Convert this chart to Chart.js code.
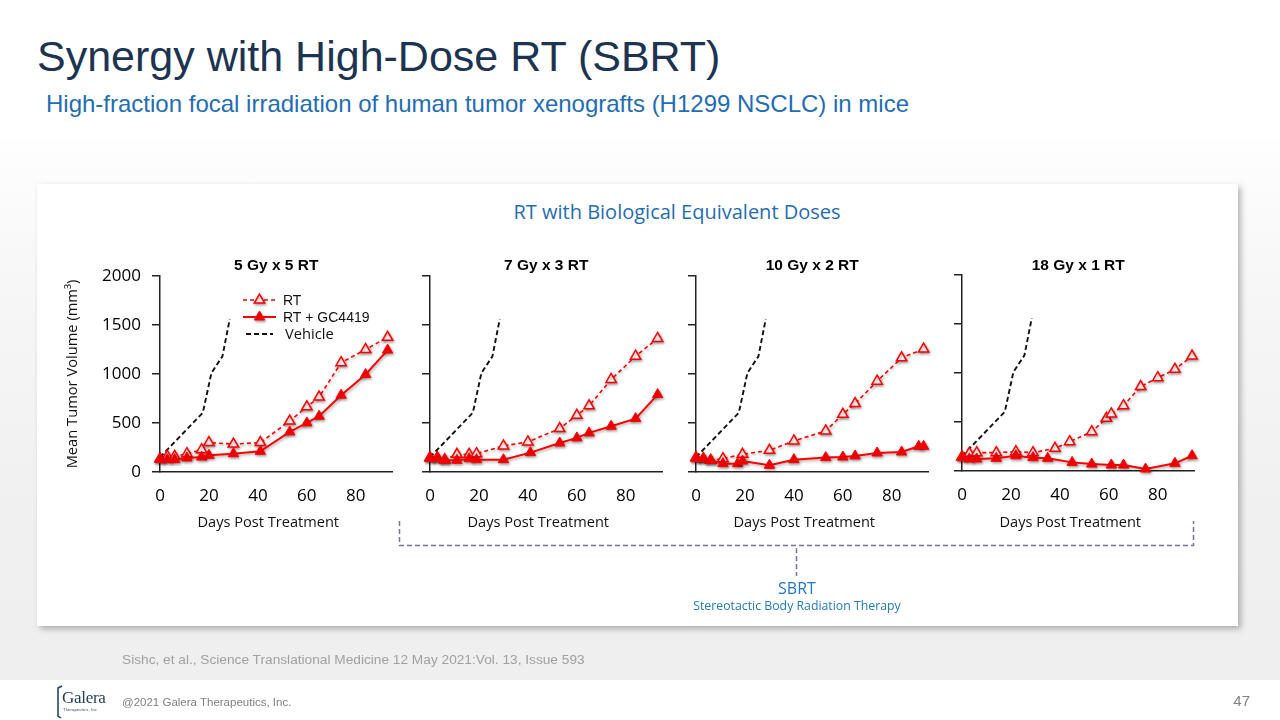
<!DOCTYPE html>
<html>
<head>
<meta charset="utf-8">
<script src="https://cdn.jsdelivr.net/npm/chart.js@4.4.1/dist/chart.umd.min.js"></script>
<style>
html,body{margin:0;padding:0;}
body{width:1280px;height:720px;position:relative;overflow:hidden;background:#fff;font-family:"Liberation Sans",Arial,sans-serif;}
.abs{position:absolute;white-space:nowrap;}
#band{left:0;top:140px;width:1280px;height:540px;background:linear-gradient(#fefefe,#f6f6f6 30%,#f0f0f0 70%,#efefef);}
#card{left:37px;top:184px;width:1201px;height:442px;background:#fff;box-shadow:3px 3px 6px rgba(0,0,0,0.28);}
#title{left:37px;top:32px;font-size:43px;line-height:48px;color:#1c3452;}
#subtitle{left:46px;top:90px;font-size:24px;line-height:28px;color:#1f6db3;}
#cardTitle{left:477px;width:400px;top:198px;text-align:center;font-family:"Open Sans";font-size:20px;line-height:28px;color:#1f6db3;}
#sbrt{left:697px;width:200px;top:576px;text-align:center;font-family:"Open Sans";font-size:16px;line-height:24px;color:#1f78bd;}
#sbrtSub{left:647px;width:300px;top:597px;text-align:center;font-family:"Open Sans";font-size:12.3px;line-height:18px;color:#1f78bd;}
#cite{left:122px;top:651px;font-size:13.7px;line-height:18px;color:#a0a0a0;}
#copy{left:122px;top:694px;font-size:11.5px;line-height:16px;color:#808080;}
#page{left:1200px;width:50px;top:691px;text-align:right;font-size:15px;line-height:20px;color:#808080;}
#logo{left:62px;top:688px;font-family:"Liberation Serif",serif;font-size:17px;line-height:20px;color:#1e3a5f;letter-spacing:-0.3px;}
#logoSub{left:63px;top:707px;font-size:4px;line-height:5px;color:#1e3a5f;letter-spacing:0.2px;}
canvas{position:absolute;}
svg{position:absolute;left:0;top:0;}
</style>
</head>
<body>
<div id="band" class="abs"></div>
<div id="card" class="abs"></div>
<div id="title" class="abs">Synergy with High-Dose RT (SBRT)</div>
<div id="subtitle" class="abs">High-fraction focal irradiation of human tumor xenografts (H1299 NSCLC) in mice</div>
<div id="cardTitle" class="abs">RT with Biological Equivalent Doses</div>

<canvas id="c1" width="360" height="300" style="left:40px;top:250px"></canvas>
<canvas id="c2" width="250" height="300" style="left:420px;top:250px"></canvas>
<canvas id="c3" width="250" height="300" style="left:686px;top:250px"></canvas>
<canvas id="c4" width="250" height="300" style="left:952px;top:249px"></canvas>

<svg width="1280" height="720">
  <g stroke="#7676a6" stroke-width="1.5" fill="none" stroke-dasharray="5 3">
    <path d="M399.5 521 L399.5 545.5 L1193.5 545.5 L1193.5 521"/>
    <path d="M796.5 548 L796.5 576"/>
  </g>
  <path d="M62 686 L58 688 L58 716 L61 718" stroke="#1e3a5f" stroke-width="1.5" fill="none"/>
</svg>
<div id="sbrt" class="abs">SBRT</div>
<div id="sbrtSub" class="abs">Stereotactic Body Radiation Therapy</div>
<div id="cite" class="abs">Sishc, et al., Science Translational Medicine 12 May 2021:Vol. 13, Issue 593</div>
<div id="logo" class="abs">Galera</div>
<div id="logoSub" class="abs">Therapeutics, Inc</div>
<div id="copy" class="abs">@2021 Galera Therapeutics, Inc.</div>
<div id="page" class="abs">47</div>

<script>
// ---------------- DATA ----------------
const panelTitles = ['5 Gy x 5 RT', '7 Gy x 3 RT', '10 Gy x 2 RT', '18 Gy x 1 RT'];
const seriesLabels = ['RT', 'RT + GC4419', 'Vehicle'];
const xAxisLabel = 'Days Post Treatment';
const yAxisLabel = 'Mean Tumor Volume (mm³)';
const xTicks = [0, 20, 40, 60, 80];
const yTicks = [0, 500, 1000, 1500, 2000];

// Vehicle (same control group in all panels)
const vehicleDays = [0, 17.5, 21, 25.5, 28.5];
const vehicleVol  = [150, 605, 1010, 1180, 1560];

// Panel 1: 5 Gy x 5
const p1RTDays = [0, 3, 6, 11, 17, 20, 30, 41, 53, 60, 65, 74, 84, 93];
const p1RTVol  = [136, 160, 160, 187, 228, 300, 285, 300, 520, 665, 765, 1115, 1250, 1375];
const p1GCDays = [0, 3, 6, 11, 17, 20, 30, 41, 53, 60, 65, 74, 84, 93];
const p1GCVol  = [126, 126, 126, 143, 153, 170, 187, 211, 409, 501, 569, 784, 995, 1244];

// Panel 2: 7 Gy x 3
const p2RTDays = [0, 3, 6, 11, 16, 19, 30, 40, 53, 60, 65, 74, 84, 93];
const p2RTVol  = [147, 147, 126, 181, 181, 187, 266, 307, 443, 579, 675, 944, 1182, 1363];
const p2GCDays = [0, 3, 6, 11, 16, 19, 30, 41, 53, 60, 65, 74, 84, 93];
const p2GCVol  = [136, 136, 119, 119, 136, 126, 126, 198, 296, 348, 399, 467, 545, 790];

// Panel 3: 10 Gy x 2
const p3RTDays = [0, 3, 6, 11, 19, 30, 40, 53, 60, 65, 74, 84, 93];
const p3RTVol  = [147, 136, 119, 136, 181, 221, 317, 419, 589, 698, 927, 1165, 1254];
const p3GCDays = [0, 3, 6, 11, 17, 19, 30, 40, 53, 60, 65, 74, 84, 91, 93];
const p3GCVol  = [136, 136, 119, 85, 85, 112, 68, 126, 147, 153, 164, 194, 204, 262, 262];

// Panel 4: 18 Gy x 1
const p4RTDays = [0, 3, 6, 14, 22, 29, 38, 44, 53, 59, 61, 66, 73, 80, 87, 94];
const p4RTVol  = [146, 180, 187, 187, 197, 187, 231, 299, 401, 537, 582, 667, 861, 952, 1037, 1173];
const p4GCDays = [0, 3, 6, 14, 22, 29, 35, 45, 53, 61, 66, 75, 87, 94];
const p4GCVol  = [136, 122, 122, 129, 156, 136, 129, 88, 71, 61, 61, 20, 78, 156];

// ---------------- HELPERS ----------------
const RED = '#ff0000';
function toXY(xs, ys) { return xs.map((x, i) => ({x: x, y: ys[i]})); }

const shadowPlugin = {
  id: 'redShadow',
  beforeDatasetDraw(chart, args) {
    const ds = chart.data.datasets[args.index];
    const ctx = chart.ctx;
    ctx.save();
    if (ds.borderColor === RED) {
      ctx.shadowColor = 'rgba(0,0,0,0.35)';
      ctx.shadowBlur = 3;
      ctx.shadowOffsetX = 1;
      ctx.shadowOffsetY = 1.5;
    }
  },
  afterDatasetDraw(chart) { chart.ctx.restore(); }
};

const panelTextPlugin = {
  id: 'panelText',
  afterDraw(chart, args, opts) {
    const {ctx, chartArea} = chart;
    const cx = (chartArea.left + chartArea.right) / 2;
    ctx.save();
    ctx.fillStyle = '#000';
    ctx.textAlign = 'center';
    ctx.textBaseline = 'middle';
    ctx.font = 'bold 15.5px "Liberation Sans", Arial, sans-serif';
    ctx.fillText(opts.title, cx, opts.titleY);
    ctx.font = '14.6px "Open Sans", sans-serif';
    ctx.fillStyle = '#111';
    ctx.fillText(opts.xLabel, cx - 8, opts.xLabelY);
    ctx.restore();
  }
};

function drawTri(ctx, x, y, r, fill, stroke, bw) {
  if (Chart.helpers && Chart.helpers.drawPoint) {
    ctx.fillStyle = fill; ctx.strokeStyle = stroke; ctx.lineWidth = bw;
    Chart.helpers.drawPoint(ctx, {pointStyle: 'triangle', radius: r, rotation: 0, borderWidth: bw}, x, y);
  }
}

const legendPlugin = {
  id: 'lineLegend',
  afterDatasetsDraw(chart, args, opts) {
    if (!opts || !opts.items) return;
    const ctx = chart.ctx;
    opts.items.forEach(it => {
      const ds = chart.data.datasets[it.index];
      ctx.save();
      ctx.strokeStyle = ds.borderColor;
      ctx.lineWidth = ds.borderWidth;
      ctx.setLineDash(ds.borderDash || []);
      ctx.beginPath();
      ctx.moveTo(it.x0, it.y);
      ctx.lineTo(it.x1, it.y);
      ctx.stroke();
      ctx.setLineDash([]);
      if (ds.pointRadius > 0) {
        if (ds.borderColor === RED) {
          ctx.shadowColor = 'rgba(0,0,0,0.35)'; ctx.shadowBlur = 3; ctx.shadowOffsetX = 1; ctx.shadowOffsetY = 1.5;
        }
        drawTri(ctx, (it.x0 + it.x1) / 2, it.y, ds.pointRadius, ds.pointBackgroundColor, ds.pointBorderColor, ds.pointBorderWidth);
      }
      ctx.restore();
      ctx.save();
      ctx.fillStyle = '#111';
      ctx.textAlign = 'left';
      ctx.textBaseline = 'middle';
      ctx.font = it.font;
      ctx.fillText(ds.label, it.tx, it.y + 1);
      ctx.restore();
    });
  }
};

function makePanel(id, idx, rtDays, rtVol, gcDays, gcVol, canvasTop) {
  const first = idx === 0;
  const datasets = [
    { label: seriesLabels[0], data: toXY(rtDays, rtVol), order: 2,
      borderColor: RED, borderWidth: 1.6, borderDash: [4, 3],
      pointStyle: 'triangle', pointRadius: 6, pointBackgroundColor: '#fff',
      pointBorderColor: RED, pointBorderWidth: 1.5, tension: 0, clip: false },
    { label: seriesLabels[1], data: toXY(gcDays, gcVol), order: 1,
      borderColor: RED, borderWidth: 2, borderDash: [],
      pointStyle: 'triangle', pointRadius: 6, pointBackgroundColor: RED,
      pointBorderColor: RED, pointBorderWidth: 1, tension: 0, clip: false },
    { label: seriesLabels[2], data: toXY(vehicleDays, vehicleVol), order: 3,
      borderColor: '#111', borderWidth: 1.9, borderDash: [5, 3],
      pointRadius: 0, tension: 0, clip: false }
  ];
  const pluginOpts = {
    legend: {display: false},
    tooltip: {enabled: false},
    panelText: {title: panelTitles[idx], titleY: 266 - canvasTop, xLabel: xAxisLabel, xLabelY: 523 - canvasTop}
  };
  if (first) {
    pluginOpts.lineLegend = {items: [
      {index: 0, x0: 203, x1: 236, y: 50, tx: 243, font: '14px "Liberation Sans", Arial, sans-serif'},
      {index: 1, x0: 203, x1: 236, y: 67, tx: 243, font: '14px "Liberation Sans", Arial, sans-serif'},
      {index: 2, x0: 206, x1: 233, y: 84, tx: 245, font: '14.7px "Open Sans", sans-serif'}
    ]};
  }
  new Chart(document.getElementById(id), {
    type: 'line',
    data: {datasets: datasets},
    plugins: first ? [shadowPlugin, panelTextPlugin, legendPlugin] : [shadowPlugin, panelTextPlugin],
    options: {
      responsive: false,
      animation: false,
      devicePixelRatio: 1,
      events: [],
      layout: {padding: {left: 0, right: 6, top: 26, bottom: 0}},
      plugins: pluginOpts,
      scales: {
        x: {
          type: 'linear', min: 0, max: 95,
          afterBuildTicks: s => { s.ticks = xTicks.map(v => ({value: v})); },
          ticks: {padding: 14, maxRotation: 0, color: '#000',
                  font: {family: 'Open Sans', size: 17},
                  callback: v => String(v)},
          grid: {drawOnChartArea: false, drawTicks: false, color: '#222'},
          border: {color: '#222', width: 1.5},
          afterFit: s => { s.height = 78; s.paddingLeft = 0; s.paddingRight = 0; }
        },
        y: {
          type: 'linear', min: 0, max: 2000,
          afterBuildTicks: s => { s.ticks = yTicks.map(v => ({value: v})); },
          ticks: {display: first, padding: 11, color: '#000',
                  font: {family: 'Open Sans', size: 17},
                  callback: v => String(v)},
          grid: {drawOnChartArea: false, drawTicks: true, tickLength: 8, color: '#222', lineWidth: 1.5},
          border: {color: '#222', width: 1.5},
          title: {display: first, text: yAxisLabel, color: '#111',
                  font: {family: 'Open Sans', size: 14.7}, padding: {top: 24, bottom: 0}},
          afterFit: s => { s.width = first ? 120 : 10; }
        }
      }
    }
  });
}

makePanel('c1', 0, p1RTDays, p1RTVol, p1GCDays, p1GCVol, 250);
makePanel('c2', 1, p2RTDays, p2RTVol, p2GCDays, p2GCVol, 250);
makePanel('c3', 2, p3RTDays, p3RTVol, p3GCDays, p3GCVol, 250);
makePanel('c4', 3, p4RTDays, p4RTVol, p4GCDays, p4GCVol, 249);
</script>
</body>
</html>
